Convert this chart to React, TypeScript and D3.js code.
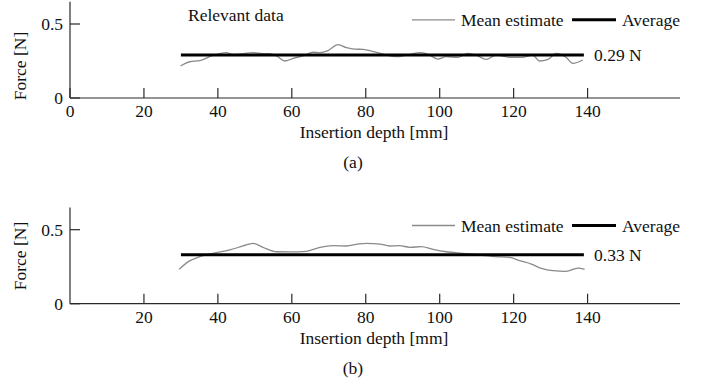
import React from 'react';
import * as d3 from 'd3';

// depth [mm] / force [N]
const depthA = [29.9, 32.4, 35.1, 37.8, 39.6, 42.3, 44.1, 45.9, 49.5, 52.2, 54, 55.9, 58.1, 60.4, 63, 65.8, 67.6, 69.8, 72.5, 74.8, 77, 79.3, 82, 84.7, 88.3, 91, 95, 97.3, 99.5, 101.8, 105, 107.6, 109.9, 112.6, 115.3, 118.9, 122.5, 125.2, 127, 129.3, 131.5, 134.2, 136, 138.7];
const forceA = [0.216, 0.245, 0.252, 0.28, 0.295, 0.306, 0.295, 0.297, 0.306, 0.3, 0.3, 0.284, 0.25, 0.268, 0.284, 0.309, 0.306, 0.32, 0.36, 0.34, 0.33, 0.329, 0.313, 0.297, 0.279, 0.29, 0.306, 0.29, 0.263, 0.279, 0.275, 0.302, 0.29, 0.261, 0.29, 0.275, 0.275, 0.29, 0.25, 0.261, 0.302, 0.275, 0.234, 0.257];
const depthB = [29.5, 32, 35.1, 38.7, 43.2, 46.8, 49.5, 52.2, 55.9, 59.5, 63.9, 67.6, 71.2, 74.8, 77.9, 80.2, 83.8, 86.5, 89.2, 91.9, 95, 98.2, 101.8, 106.3, 110.8, 115.3, 118.9, 121.6, 124.8, 127.5, 130.6, 134.2, 137.4, 139.2];
const forceB = [0.232, 0.284, 0.318, 0.34, 0.363, 0.39, 0.408, 0.381, 0.351, 0.35, 0.354, 0.381, 0.392, 0.39, 0.403, 0.408, 0.403, 0.39, 0.392, 0.381, 0.385, 0.367, 0.351, 0.34, 0.329, 0.318, 0.313, 0.291, 0.268, 0.239, 0.223, 0.219, 0.241, 0.232];

const averages = [0.29, 0.33];
const avgRange = [30, 139];
const xTicksA = [0, 20, 40, 60, 80, 100, 120, 140];
const xTicksB = [20, 40, 60, 80, 100, 120, 140];
const yTicks = [0, 0.5];

const FONT = "'Liberation Serif', 'DejaVu Serif', serif";
const FS = 17.5;
const AXIS = '#2a2a2a';

interface PanelProps {
  depth: number[];
  force: number[];
  avg: number;
  xTicks: number[];
  top: number; // y pixel of 0.65 N
  caption: string;
  showNote: boolean;
  yLabelY: number;
}

const Panel: React.FC<PanelProps> = ({ depth, force, avg, xTicks, top, caption, showNote, yLabelY }) => {
  const x = d3.scaleLinear().domain([0, 165]).range([70, 680]);
  const y = d3.scaleLinear().domain([0, 0.65]).range([top + 96.2, top]);
  const y0 = y(0);

  const line = d3.line<number>()
    .x((_, i) => x(depth[i]))
    .y(d => y(d))
    .curve(d3.curveMonotoneX);

  const legendY = top + 18;

  return (
    <g style={{ fontFamily: FONT, fontSize: FS }} fill="#111">
      {/* axes */}
      <line x1={x(0)} x2={x(0)} y1={top} y2={y0} stroke={AXIS} strokeWidth={1.2} />
      <line x1={x(0)} x2={680} y1={y0} y2={y0} stroke={AXIS} strokeWidth={1.2} />
      {xTicks.map(t => (
        <g key={t}>
          <line x1={x(t)} x2={x(t)} y1={y0} y2={y0 - 10} stroke={AXIS} strokeWidth={1.2} />
          <text x={x(t)} y={y0 + 19} textAnchor="middle">{t}</text>
        </g>
      ))}
      {yTicks.map(t => (
        <g key={t}>
          <line x1={x(0)} x2={x(0) + 10} y1={y(t)} y2={y(t)} stroke={AXIS} strokeWidth={1.2} />
          <text x={63} y={y(t)} dy="0.35em" textAnchor="end">{t}</text>
        </g>
      ))}
      <text transform={`translate(26,${yLabelY}) rotate(-90)`} textAnchor="middle">Force [N]</text>
      <text x={374} y={y0 + 40} textAnchor="middle">Insertion depth [mm]</text>
      <text x={353} y={y0 + 70} textAnchor="middle">{caption}</text>

      {/* data */}
      <path d={line(force) || ''} fill="none" stroke="#8a8a8a" strokeWidth={1.3} />
      <line x1={x(avgRange[0])} x2={x(avgRange[1])} y1={y(avg)} y2={y(avg)} stroke="#000" strokeWidth={3} />
      <text x={594} y={y(avg)} dy="0.35em">{`${avg.toFixed(2)} N`}</text>

      {showNote && <text x={188} y={top + 13} dy="0.35em">Relevant data</text>}

      {/* legend */}
      <line x1={412} x2={455} y1={legendY} y2={legendY} stroke="#8a8a8a" strokeWidth={1.3} />
      <text x={461} y={legendY} dy="0.35em">Mean estimate</text>
      <line x1={572} x2={616} y1={legendY} y2={legendY} stroke="#000" strokeWidth={3} />
      <text x={622} y={legendY} dy="0.35em">Average</text>
    </g>
  );
};

export default function App() {
  return (
    <svg
      width={706}
      height={391}
      style={{ position: 'absolute', left: 0, top: 0, background: '#fff' }}
    >
      <Panel depth={depthA} force={forceA} avg={averages[0]} xTicks={xTicksA} top={1.8} caption="(a)" showNote={true} yLabelY={66} />
      <Panel depth={depthB} force={forceB} avg={averages[1]} xTicks={xTicksB} top={207.5} caption="(b)" showNote={false} yLabelY={256} />
    </svg>
  );
}
